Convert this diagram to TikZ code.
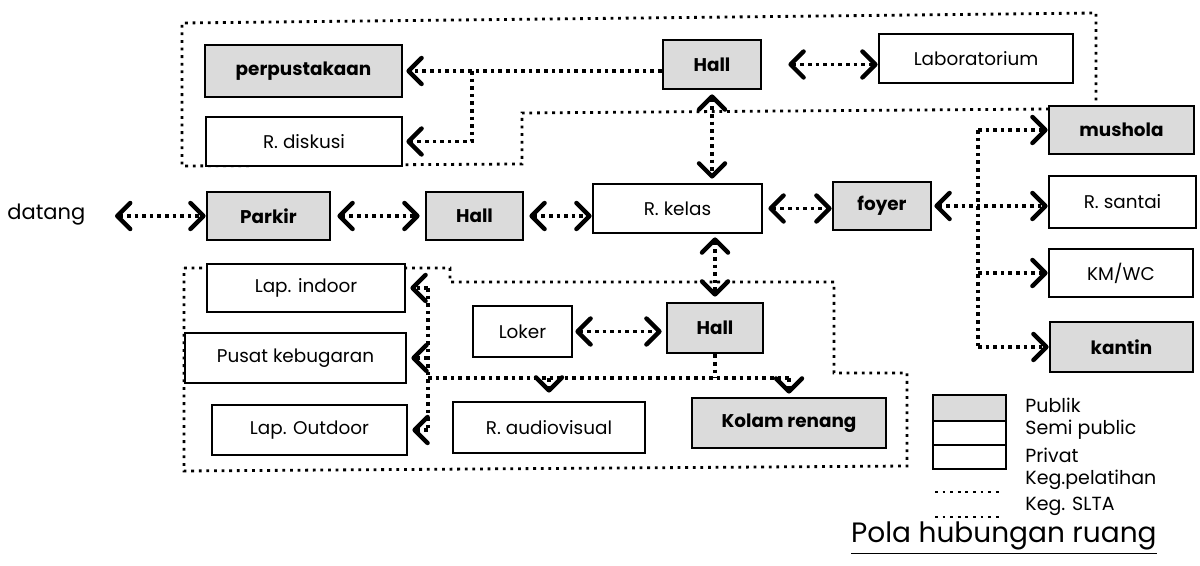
\documentclass[tikz,border=0pt]{standalone}
\usepackage{fontspec}
\setmainfont{Poppins}
\usetikzlibrary{arrows.meta}
\begin{document}
\begin{tikzpicture}[x=0.5pt,y=-0.5pt,
  >={Straight Barb[length=6.5pt,width=13pt,line width=2.2pt,round]},
  room/.style={draw=black,line width=1.4pt,inner sep=0pt,fill=white,
    font=\fontsize{9.2}{11}\selectfont},
  pub/.style={room,fill=black!14,font=\fontsize{9.2}{11}\selectfont\bfseries},
  conn/.style={line width=1.8pt,dash pattern=on 1.8pt off 2pt},
  zone/.style={line width=1.4pt,dash pattern=on 1.4pt off 2.4pt},
  legtext/.style={anchor=west,inner sep=0pt,font=\fontsize{9.5}{11}\selectfont},
]
\useasboundingbox (0,0) rectangle (1200,566);

% activity zones
\draw[zone] (1049,109) -- (522,113) -- (522,164) -- (182,166) -- (182,23)
  -- (1096,13) -- (1096,106);
\draw[zone] (184,268) -- (450,268) -- (450,282) -- (834,282) -- (834,373)
  -- (907,373) -- (907,466) -- (184,471) -- cycle;

% rooms
\node[pub,minimum width=98.5pt,minimum height=26pt] (perp) at (303.5,71) {perpustakaan};
\node[room,minimum width=98pt,minimum height=24.5pt] (disk) at (304,141.5) {R. diskusi};
\node[pub,minimum width=49pt,minimum height=24.5pt] (hallT) at (712,64.5) {Hall};
\node[room,minimum width=97pt,minimum height=24.5pt] (lab) at (976,58.5) {Laboratorium};
\node[pub,minimum width=72.5pt,minimum height=24pt] (mush) at (1121.5,130) {mushola};
\node[room,minimum width=73.5pt,minimum height=26pt] (santai) at (1122.5,202) {R. santai};
\node[room,minimum width=72pt,minimum height=24pt] (kmwc) at (1121,273) {KM/WC};
\node[pub,minimum width=71.5pt,minimum height=25pt] (kantin) at (1121.5,347) {kantin};
\node[pub,minimum width=49pt,minimum height=24pt] (foyer) at (882,206) {foyer};
\node[room,minimum width=84.5pt,minimum height=24.5pt] (kelas) at (677.5,208.5) {R. kelas};
\node[pub,minimum width=48.5pt,minimum height=24pt] (hallM) at (474.5,216) {Hall};
\node[pub,minimum width=61.5pt,minimum height=24pt] (parkir) at (268.5,216) {Parkir};
\node[anchor=west,inner sep=0pt,font=\fontsize{10.5}{12}\selectfont] (datang) at (7,215) {datang};
\node[room,minimum width=99pt,minimum height=24pt] (indoor) at (306,288) {Lap. indoor};
\node[room,minimum width=110.5pt,minimum height=25pt] (pusat) at (295.5,358) {Pusat kebugaran};
\node[room,minimum width=97.5pt,minimum height=25pt] (outdoor) at (309.5,430) {Lap. Outdoor};
\node[room,minimum width=49.5pt,minimum height=25.5pt] (loker) at (522.5,331.5) {Loker};
\node[pub,minimum width=48pt,minimum height=25pt] (hallL) at (715,328) {Hall};
\node[room,minimum width=96pt,minimum height=25.5pt] (av) at (549,427.5) {R. audiovisual};
\node[pub,minimum width=97pt,minimum height=25pt] (kolam) at (789,423) {Kolam renang};

% junction points
\coordinate (j1) at (472,71);
\coordinate (dtip) at (115,216);
\coordinate (busT) at (978,130);
\coordinate (busB) at (978,347);
\coordinate (split) at (715,378);
\coordinate (west) at (428,378);

% connections
\draw[conn,->,shorten >=1.5pt] (perp.east -| hallT.west) -- (perp.east);
\draw[conn,->,shorten >=1.5pt] (j1) |- (disk.east);
\draw[conn,<->,shorten <=13pt] (hallT.east) -- (hallT.east -| lab.west);
\draw[conn,<->,shorten <=2pt,shorten >=2pt] (hallT.south) -- (hallT.south |- kelas.north);
\draw[conn,<->] (dtip) -- (dtip -| parkir.west);
\draw[conn,<->,shorten <=3pt,shorten >=2.5pt] (parkir.east) -- (hallM.west);
\draw[conn,<->,shorten <=2.5pt] (hallM.east) -- (hallM.east -| kelas.west);
\draw[conn,<->,shorten <=2.5pt] (kelas.east) -- (kelas.east -| foyer.west);
\draw[conn,<->,shorten <=1pt] (foyer.east) -- (foyer.east -| santai.west);
\draw[conn] (busT) -- (busB);
\draw[conn,->] (busT) -- (mush.west);
\draw[conn,->] (busT |- kmwc.west) -- (kmwc.west);
\draw[conn,->] (busB) -- (kantin.west);
\draw[conn,<->,shorten <=1.5pt,shorten >=2.5pt] (hallL.north |- kelas.south) -- (hallL.north);
\draw[conn,<->,shorten <=1pt,shorten >=2pt] (loker.east) -- (loker.east -| hallL.west);
\draw[conn] (hallL.south) -- (split);
\draw[conn] (west) -- (west -| kolam.north);
\draw[conn,->,shorten >=4pt] (west -| av.north) -- (av.north);
\draw[conn,->,shorten >=1.5pt] (west -| kolam.north) -- (kolam.north);
\draw[conn] (west |- indoor.east) -- (west |- outdoor.east);
\draw[conn,->,shorten >=2pt] (west |- indoor.east) -- (indoor.east);
\draw[conn,->,shorten >=2pt] (west |- pusat.east) -- (pusat.east);
\draw[conn,->,shorten >=2pt] (west |- outdoor.east) -- (outdoor.east);

% legend
\node[pub,minimum width=36.5pt,minimum height=13pt] (legP) at (969.5,408) {};
\node[room,minimum width=36.5pt,minimum height=12pt] (legS) at (969.5,433) {};
\node[room,minimum width=36.5pt,minimum height=12pt] (legV) at (969.5,457) {};
\node[legtext] (tP) at (1025,405) {Publik};
\node[legtext] (tS) at (1025,430) {Semi public};
\node[legtext] (tV) at (1025,455) {Privat};
\node[legtext] (tK) at (1025,480) {Keg.pelatihan};
\node[legtext] (tL) at (1025,506) {Keg. SLTA};
\draw[zone] (935,492) -- (1002,492);
\draw[zone] (935,517) -- (1002,517);

\node[anchor=base east,inner sep=0pt,font=\fontsize{14}{16}\selectfont] (title)
  at (1157,543) {\underline{Pola hubungan ruang}};
\end{tikzpicture}
\end{document}
